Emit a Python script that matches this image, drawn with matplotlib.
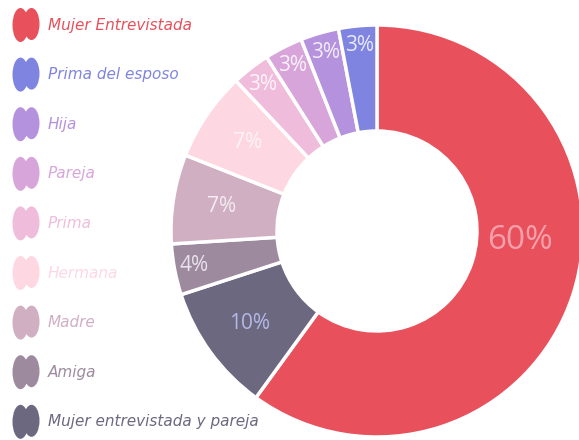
import numpy as np
import matplotlib
matplotlib.use("Agg")
import matplotlib.pyplot as plt
from matplotlib.path import Path
from matplotlib.patches import PathPatch
from matplotlib.transforms import Affine2D

# datos del grafico (orden del anillo, en sentido horario desde arriba)
labels = ["Mujer Entrevistada", "Mujer entrevistada y pareja", "Amiga", "Madre",
          "Hermana", "Prima", "Pareja", "Hija", "Prima del esposo"]
values = [60, 10, 4, 7, 7, 3, 3, 3, 3]
colors = ["#E8505B", "#6B6880", "#9E8A9F", "#D0AFC3", "#FDD8E3",
          "#EFBDDB", "#D7A5DA", "#B592DD", "#7F84E0"]
pct_colors = ["#F7A0AB", "#B4B8E6", "#E8E2EC", "#F3ECF1", "#FFF3F6",
              "#FFF3F8", "#FBF2FB", "#F3ECFA", "#E8EAFB"]

# orden de la leyenda (de arriba a abajo)
legend_order = ["Mujer Entrevistada", "Prima del esposo", "Hija", "Pareja", "Prima",
                "Hermana", "Madre", "Amiga", "Mujer entrevistada y pareja"]

W, H = 579, 440
fig = plt.figure(figsize=(W / 100, H / 100), dpi=100)
ax = fig.add_axes([0, 0, 1, 1])

cx, cy = 377, H - 231
R = 206
ring = 106

ax.pie(values, colors=colors, startangle=90, counterclock=False,
       center=(cx, cy), radius=R,
       wedgeprops=dict(width=ring, edgecolor="white", linewidth=2.5))

# etiquetas de porcentaje
total = sum(values)
cum = 0
for i, v in enumerate(values):
    mid = 90 - 360 * (cum + v / 2) / total
    cum += v
    if v >= 50:
        mid += 14
        r, fs = 143, 24
    elif v < 5:
        r, fs = 186, 15
    else:
        r, fs = 157, 15
    a = np.deg2rad(mid)
    ax.text(cx + r * np.cos(a), cy + r * np.sin(a), f"{v}%",
            ha="center", va="center", fontsize=fs, color=pct_colors[i],
            family="Open Sans")

# icono tipo "brocha" de la leyenda
circ = Path.unit_circle()
lobe_l = circ.transformed(Affine2D().scale(8, 17).translate(-5.5, 0))
lobe_r = circ.transformed(Affine2D().scale(8, 16).translate(5.5, 1))
brush = Path.make_compound_path(lobe_l, lobe_r)

for i, name in enumerate(legend_order):
    col = colors[labels.index(name)]
    y = H - (25 + i * 49.6)
    ax.add_patch(PathPatch(brush.transformed(Affine2D().translate(26, y)),
                           facecolor=col, edgecolor="none"))
    ax.text(48, y, name, ha="left", va="center", fontsize=11,
            style="italic", color=col, family="DejaVu Sans")

ax.set_xlim(0, W)
ax.set_ylim(0, H)
ax.set_aspect("equal")
ax.axis("off")

fig.savefig("out.png", dpi=100)
